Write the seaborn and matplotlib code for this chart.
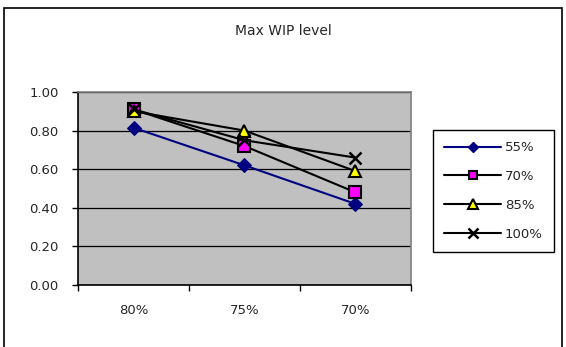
import matplotlib
matplotlib.use("Agg")
import matplotlib.pyplot as plt
from matplotlib.patches import Rectangle
from matplotlib.lines import Line2D
import seaborn as sns
import pandas as pd

# Data
categories = ["80%", "75%", "70%"]
series_names = ["55%", "70%", "85%", "100%"]
values_55 = [0.815, 0.62, 0.42]
values_70 = [0.91, 0.72, 0.48]
values_85 = [0.90, 0.80, 0.59]
values_100 = [0.91, 0.75, 0.66]
y_ticks = [0.0, 0.2, 0.4, 0.6, 0.8, 1.0]
title = "Max WIP level"

series_values = [values_55, values_70, values_85, values_100]
rows = []
for name, vals in zip(series_names, series_values):
    for cat, v in zip(categories, vals):
        rows.append({"level": cat, "series": name, "value": v})
df = pd.DataFrame(rows)
df["pos"] = df["level"].map({c: i for i, c in enumerate(categories)})

sns.set_theme(style="white")
plt.rcParams["font.family"] = ["DejaVu Sans"]
FS = 9.5

fig = plt.figure(figsize=(5.66, 3.47), dpi=100)
fig.patch.set_facecolor("white")
ax = fig.add_axes([78 / 566, 1 - 285 / 347, 333 / 566, 193 / 347])
ax.set_facecolor("#c0c0c0")

styles = {
    "55%": dict(color="#000080", marker="D", markerfacecolor="#000080",
                markeredgecolor="#000080", markersize=7),
    "70%": dict(color="black", marker="s", markerfacecolor="#ff00ff",
                markeredgecolor="black", markersize=8.5, markeredgewidth=1.5),
    "85%": dict(color="black", marker="^", markerfacecolor="#ffff00",
                markeredgecolor="black", markersize=9, markeredgewidth=1.5),
    "100%": dict(color="black", marker="x", markerfacecolor="black",
                 markeredgecolor="black", markersize=9, markeredgewidth=1.8),
}

for name in series_names:
    sub = df[df["series"] == name]
    st = styles[name]
    sns.lineplot(data=sub, x="pos", y="value", ax=ax, sort=False,
                 linewidth=1.5, legend=False, zorder=3, **st)

ax.set_xlim(-0.5, len(categories) - 0.5)
ax.set_ylim(0, 1.0)
ax.set_xlabel("")
ax.set_ylabel("")

# Category labels centered, tick marks at the category boundaries
ax.set_xticks(range(len(categories)))
ax.set_xticklabels(categories, fontsize=FS)
ax.tick_params(axis="x", which="major", length=0, pad=14)
ax.set_xticks([i - 0.5 for i in range(len(categories) + 1)], minor=True)
ax.tick_params(axis="x", which="minor", length=4, width=1, color="black",
               direction="out", bottom=True)

ax.set_yticks(y_ticks)
ax.set_yticklabels([f"{t:.2f}" for t in y_ticks], fontsize=FS)
ax.tick_params(axis="y", length=4, width=1, color="black", direction="out",
               left=True, pad=10)

ax.grid(axis="y", color="black", linewidth=0.9)
ax.grid(axis="x", visible=False)
ax.set_axisbelow(True)

for side in ["left", "bottom"]:
    ax.spines[side].set_color("black")
    ax.spines[side].set_linewidth(1.2)
for side in ["top", "right"]:
    ax.spines[side].set_color("#808080")
    ax.spines[side].set_linewidth(1.2)

fig.text(283 / 566, 1 - 31 / 347, title, ha="center", va="center", fontsize=10)

# Legend
handles = []
for name in series_names:
    st = styles[name]
    handles.append(Line2D([0], [0], color=st["color"], linewidth=1.5,
                          marker=st["marker"],
                          markerfacecolor=st["markerfacecolor"],
                          markeredgecolor=st["markeredgecolor"],
                          markersize=st["markersize"] * 0.75,
                          markeredgewidth=st.get("markeredgewidth", 1.0)))
leg = fig.legend(handles, series_names, loc="upper left",
                 bbox_to_anchor=(433 / 566, 1 - 130 / 347),
                 fontsize=FS, frameon=True, fancybox=False,
                 edgecolor="black", framealpha=1, handlelength=4.3,
                 handletextpad=0.3, labelspacing=1.2, borderpad=0.85,
                 borderaxespad=0)
leg.get_frame().set_linewidth(1.0)

# Outer chart border
fig.patches.append(Rectangle((4 / 566, -0.1), 558 / 566, 1.1 - 8 / 347,
                             transform=fig.transFigure, fill=False,
                             edgecolor="black", linewidth=1.2, clip_on=False))

fig.savefig("out.png", dpi=100)
